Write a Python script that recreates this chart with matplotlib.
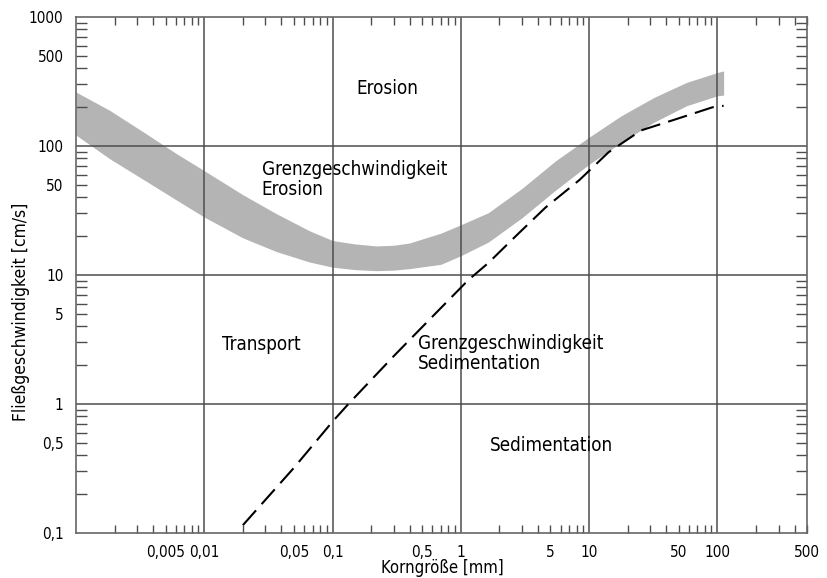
import matplotlib
matplotlib.use("Agg")
import matplotlib.pyplot as plt
from matplotlib.ticker import FixedLocator, FuncFormatter

# Hjulström-Diagramm: Werte
band_x = [0.001, 0.00183, 0.00333, 0.00605, 0.01, 0.02, 0.0364, 0.0662, 0.1, 0.15, 0.219, 0.3,
          0.398, 0.7, 1, 1.64, 2.99, 5.47, 10, 17.9, 32.1, 57.5, 100, 112]
band_upper = [262, 189, 129, 87.4, 64.3, 41.9, 29.9, 22.0, 18.5, 17.4, 16.8, 17.0,
              17.7, 21.1, 24.5, 30.4, 46.8, 76.6, 117, 172, 238, 311, 371, 382]
band_lower = [121.5, 79.7, 55.2, 38.2, 28.1, 19.4, 15.2, 12.6, 11.5, 11.0, 10.8, 10.9,
              11.2, 12.1, 14.1, 18.0, 27.7, 45.4, 72.1, 107, 153, 205, 245, 248]

sed_x = [0.02, 0.05, 0.1, 0.133, 0.3, 0.5, 1.14, 1.64, 2.82, 4.57, 8.43, 14.2, 25.4, 48.2, 91.6, 112]
sed_v = [0.115, 0.32, 0.73, 1, 2.35, 3.95, 9.1, 12.4, 21.0, 33.3, 54.6, 89.5, 132, 162, 199.5, 205]

x_labels = {0.005: "0,005", 0.01: "0,01", 0.05: "0,05", 0.1: "0,1", 0.5: "0,5",
            1: "1", 5: "5", 10: "10", 50: "50", 100: "100", 500: "500"}
y_labels = {0.1: "0,1", 0.5: "0,5", 1: "1", 5: "5", 10: "10", 50: "50",
            100: "100", 500: "500", 1000: "1000"}

plt.rcParams['font.family'] = ['DejaVu Sans']
plt.rcParams['font.stretch'] = 'condensed'

fig = plt.figure(figsize=(8.28, 5.78), dpi=100)
ax = fig.add_axes([0.0918, 0.0779, 0.8828, 0.8927])
ax.set_xscale("log")
ax.set_yscale("log")
ax.set_xlim(0.001, 500)
ax.set_ylim(0.1, 1000)

grid_col = "#4d4d4d"
ax.fill_between(band_x, band_lower, band_upper, color="#b4b4b4", lw=0, zorder=1)
ax.plot(sed_x, sed_v, color="black", lw=1.5, dashes=(9.5, 4), zorder=3)

decades_x = [0.01, 0.1, 1, 10, 100]
decades_y = [1, 10, 100]
for v in decades_x:
    ax.axvline(v, color=grid_col, lw=1.1, zorder=2)
for v in decades_y:
    ax.axhline(v, color=grid_col, lw=1.1, zorder=2)

minor_x = [m * 10.0 ** e for e in range(-3, 3) for m in range(2, 10)]
minor_y = [m * 10.0 ** e for e in range(-1, 3) for m in range(2, 10)]
ax.xaxis.set_major_locator(FixedLocator(decades_x))
ax.yaxis.set_major_locator(FixedLocator([0.1, 1, 10, 100, 1000]))
ax.xaxis.set_minor_locator(FixedLocator(minor_x))
ax.yaxis.set_minor_locator(FixedLocator(minor_y))


def fmt(labels):
    def f(v, pos):
        for k, s in labels.items():
            if abs(v - k) / k < 1e-6:
                return s
        return ""
    return f


ax.xaxis.set_major_formatter(FuncFormatter(fmt(x_labels)))
ax.xaxis.set_minor_formatter(FuncFormatter(fmt(x_labels)))
ax.yaxis.set_major_formatter(FuncFormatter(fmt(y_labels)))
ax.yaxis.set_minor_formatter(FuncFormatter(fmt(y_labels)))

ax.tick_params(which="both", direction="in", top=True, right=True,
               labelsize=11, colors=grid_col, labelcolor="black")
ax.tick_params(which="major", length=0, pad=9)
ax.tick_params(axis="x", which="minor", length=6, width=1, pad=9)
ax.tick_params(axis="y", which="minor", length=8, width=1, pad=9)
for s in ax.spines.values():
    s.set_color("#666666")
    s.set_linewidth(1.2)

fs = 13.5
ax.text(0.267, 277, "Erosion", fontsize=fs, ha="center", va="center")
ax.text(0.028, 78, "Grenzgeschwindigkeit\nErosion", fontsize=fs, ha="left", va="top",
        linespacing=1.1)
ax.text(0.0277, 2.87, "Transport", fontsize=fs, ha="center", va="center")
ax.text(0.464, 3.5, "Grenzgeschwindigkeit\nSedimentation", fontsize=fs, ha="left",
        va="top", linespacing=1.1)
ax.text(5.08, 0.48, "Sedimentation", fontsize=fs, ha="center", va="center")

fig.text(442 / 828, 1 - 568 / 578, "Korngröße [mm]", fontsize=12, ha="center", va="center")
fig.text(21 / 828, 1 - 312 / 578, "Fließgeschwindigkeit [cm/s]", fontsize=12.5,
         rotation=90, ha="center", va="center")

fig.savefig("out.png", dpi=100)
